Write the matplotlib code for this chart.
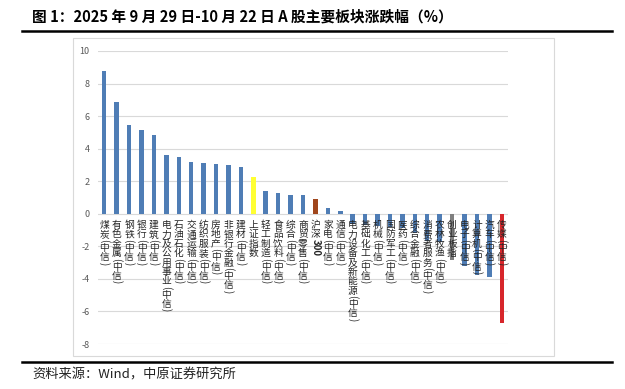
import matplotlib
matplotlib.use("Agg")
import matplotlib.pyplot as plt
from matplotlib.lines import Line2D
from matplotlib.patches import Rectangle

plt.rcParams['font.family'] = ['Noto Sans CJK SC', 'DejaVu Sans']

# 板块名称与涨跌幅（%）
sectors = ["煤炭(中信)", "有色金属(中信)", "钢铁(中信)", "银行(中信)", "建筑(中信)",
           "电力及公用事业(中信)", "石油石化(中信)", "交通运输(中信)", "纺织服装(中信)",
           "房地产(中信)", "非银行金融(中信)", "建材(中信)", "上证指数", "轻工制造(中信)",
           "食品饮料(中信)", "综合(中信)", "商贸零售(中信)", "沪深300", "家电(中信)",
           "通信(中信)", "电力设备及新能源(中信)", "基础化工(中信)", "机械(中信)",
           "国防军工(中信)", "医药(中信)", "综合金融(中信)", "消费者服务(中信)",
           "农林牧渔(中信)", "创业板指", "电子(中信)", "计算机(中信)", "汽车(中信)",
           "传媒(中信)"]
changes = [8.79, 6.89, 5.45, 5.14, 4.86, 3.63, 3.48, 3.18, 3.14, 3.03, 2.97, 2.89,
           2.23, 1.41, 1.27, 1.17, 1.13, 0.92, 0.33, 0.18, -0.6, -0.7, -0.75, -0.8,
           -0.85, -1.2, -1.65, -1.75, -2.85, -3.2, -3.75, -3.9, -6.7]
y_ticks = [-8, -6, -4, -2, 0, 2, 4, 6, 8, 10]

base_color = "#4f7db5"
highlight = {"上证指数": "#ffff33", "沪深300": "#a0461c", "创业板指": "#7f7f7f",
             "传媒(中信)": "#d7262b"}
colors = [highlight.get(s, base_color) for s in sectors]

fig = plt.figure(figsize=(6.25, 3.89), dpi=100)
ax = fig.add_axes([98 / 625, 45 / 389, 410 / 625, 293 / 389])

x = range(len(sectors))
ax.bar(x, changes, width=0.36, color=colors, zorder=2)

ax.set_xlim(-0.5, len(sectors) - 0.5)
ax.set_ylim(-8, 10)
ax.set_yticks(y_ticks)
ax.set_yticklabels([str(t) for t in y_ticks])
ax.set_xticks([])
ax.grid(axis="y", color="#d9d9d9", linewidth=0.8, zorder=0)
ax.tick_params(axis="y", length=0, pad=6, labelsize=6.5, labelcolor="#595959")
for s in ax.spines.values():
    s.set_visible(False)


def tokens(label):
    out = []
    i = 0
    while i < len(label):
        c = label[i]
        if c.isdigit():
            j = i
            while j < len(label) and label[j].isdigit():
                j += 1
            out.append(label[i:j])
            i = j
        else:
            out.append(c)
            i += 1
    return out


# 竖排类别标签，贴近零轴
fs = 7
lab_color = "#262626"
for i, lab in enumerate(sectors):
    off = 4.5
    for t in tokens(lab):
        if t in "()":
            ax.annotate(t, xy=(i, 0), xytext=(0, -off), textcoords="offset points",
                        ha="center", va="top", rotation=270, fontsize=fs,
                        color=lab_color, zorder=3)
            off += 2.9
        elif t.isdigit():
            ax.annotate(t, xy=(i, 0), xytext=(0, -off), textcoords="offset points",
                        ha="center", va="top", rotation=270, fontsize=fs,
                        fontweight="bold", color=lab_color, zorder=3)
            off += 3.9 * len(t)
        else:
            ax.annotate(t, xy=(i, 0), xytext=(0, -off), textcoords="offset points",
                        ha="center", va="top", fontsize=fs, color=lab_color, zorder=3)
            off += 6.75

# 图框与标题、来源
fig.add_artist(Rectangle((73 / 625, 1 - 356 / 389), 481 / 625, 318 / 389,
                         transform=fig.transFigure, fill=False,
                         edgecolor="#d9d9d9", linewidth=0.8))
fig.add_artist(Line2D([22 / 625, 612 / 625], [1 - 31 / 389] * 2,
                      transform=fig.transFigure, color="black", linewidth=1.8))
fig.add_artist(Line2D([22 / 625, 612 / 625], [1 - 362 / 389] * 2,
                      transform=fig.transFigure, color="black", linewidth=1.8))
fig.text(32 / 625, 1 - 17 / 389,
         "图 1：2025 年 9 月 29 日-10 月 22 日 A 股主要板块涨跌幅（%）",
         fontsize=10.6, fontweight="bold", va="center", ha="left")
fig.text(32 / 625, 1 - 375 / 389, "资料来源：Wind，中原证券研究所",
         fontsize=9.5, va="center", ha="left", color="#222222")

fig.savefig("out.png", dpi=100)
